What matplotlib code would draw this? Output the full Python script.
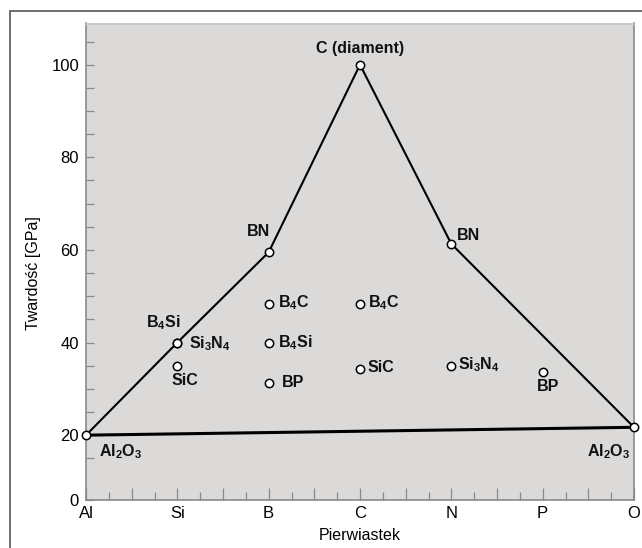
import matplotlib
matplotlib.use("Agg")
import matplotlib.pyplot as plt
from matplotlib.patches import Rectangle
from matplotlib.ticker import FixedLocator, FixedFormatter, MultipleLocator

plt.rcParams['font.family'] = ['Liberation Sans', 'DejaVu Sans']
plt.rcParams['mathtext.fontset'] = 'custom'
plt.rcParams['mathtext.rm'] = 'Liberation Sans'
plt.rcParams['mathtext.bf'] = 'Liberation Sans:bold'
plt.rcParams['mathtext.default'] = 'bf'

# ---- data ----
elements = ["Al", "Si", "B", "C", "N", "P", "O"]
y_tick_values = [20, 40, 60, 80, 100]
y_tick_labels = ["20", "40", "60", "80", "100"]
y_bottom = 6.0          # axis bottom, labelled "0" in the original
y_top = 108.9

# hull (triangle) points: x index, hardness
hull_x = [0, 1, 2, 3, 4, 6]
hull_y = [20, 40, 59.5, 100, 61.3, 21.7]
base_x = [0, 6]
base_y = [20, 21.7]

# all compounds: name, x index, hardness
compound_names = ["Al$_2$O$_3$", "B$_4$Si", "Si$_3$N$_4$", "SiC", "BN",
                  "B$_4$C", "B$_4$Si", "BP", "C (diament)", "B$_4$C", "SiC",
                  "BN", "Si$_3$N$_4$", "BP", "Al$_2$O$_3$"]
compound_x = [0, 1, 1, 1, 2, 2, 2, 2, 3, 3, 3, 4, 4, 5, 6]
compound_y = [20, 40, 40, 35, 59.5, 48.4, 40, 31.3, 100, 48.4, 34.3,
              61.3, 35, 33.6, 21.7]

# label placement (offset in pixels, alignment)
label_offsets = [(13, -16), (3, 11), (12, -1), (8, -15), (1, 13),
                 (9, 1), (9, 0), (13, 0), (0, 9), (8, 1), (8, 1),
                 (6, 8), (7, 1), (5, -14), (-4, -24)]
label_ha = ["left", "right", "left", "center", "right",
            "left", "left", "left", "center", "left", "left",
            "left", "left", "center", "right"]
label_va = ["center", "bottom", "center", "center", "bottom",
            "center", "center", "center", "bottom", "center", "center",
            "center", "center", "center", "center"]

# ---- figure ----
fig = plt.figure(figsize=(6.42, 5.48), dpi=100)
fig.patches.append(Rectangle((10 / 642, -0.1), 1.2, 1.1 - 11 / 548,
                             transform=fig.transFigure, fill=False,
                             edgecolor="#555555", linewidth=1.2))
ax = fig.add_axes([86 / 642, 1 - 500 / 548, (634 - 86) / 642, (500 - 23.5) / 548])
ax.set_facecolor("#dbdad9")

ax.plot(base_x, base_y, color="black", linewidth=2.2, zorder=2)
ax.plot(hull_x, hull_y, color="black", linewidth=1.5, zorder=2)
ax.plot(compound_x, compound_y, linestyle="none", marker="o", markersize=6,
        markerfacecolor="white", markeredgecolor="black", markeredgewidth=1.1,
        zorder=3, clip_on=False)

for name, x, y, off, ha, va in zip(compound_names, compound_x, compound_y,
                                   label_offsets, label_ha, label_va):
    ax.annotate(name, (x, y), xytext=off, textcoords="offset pixels",
                ha=ha, va=va, fontsize=11.5, fontweight="bold", color="#111111")

ax.set_xlim(0, len(elements) - 1)
ax.set_ylim(y_bottom, y_top)

major_x = [i * 0.5 for i in range(2 * (len(elements) - 1) + 1)]
major_x_labels = [elements[int(v)] if v == int(v) else "" for v in major_x]
ax.xaxis.set_major_locator(FixedLocator(major_x))
ax.xaxis.set_major_formatter(FixedFormatter(major_x_labels))
ax.xaxis.set_minor_locator(MultipleLocator(0.25))

ax.yaxis.set_major_locator(FixedLocator([y_bottom] + y_tick_values))
ax.yaxis.set_major_formatter(FixedFormatter(["0"] + y_tick_labels))
ax.yaxis.set_minor_locator(FixedLocator([v for v in range(15, 110, 5)]))

ax.tick_params(axis="x", which="major", direction="in", length=9, width=0.9,
               color="#8a8a8a", labelsize=12, pad=4)
ax.tick_params(axis="x", which="minor", direction="in", length=6, width=0.9,
               color="#8a8a8a")
ax.tick_params(axis="y", which="both", direction="in", length=6, width=0.9,
               color="#8a8a8a", labelsize=12, pad=5)

for s in ["left", "bottom", "right"]:
    ax.spines[s].set_color("#8a8a8a")
    ax.spines[s].set_linewidth(1.2)
ax.spines["top"].set_color("#c4c4c4")
ax.spines["top"].set_linewidth(1.2)

ax.set_ylabel("Twardość [GPa]", fontsize=11.5)
ax.yaxis.set_label_coords(-0.082, 0.476)
ax.set_xlabel("Pierwiastek", fontsize=11.5)
ax.xaxis.set_label_coords(0.5, -0.058)

fig.savefig("out.png", dpi=100)
